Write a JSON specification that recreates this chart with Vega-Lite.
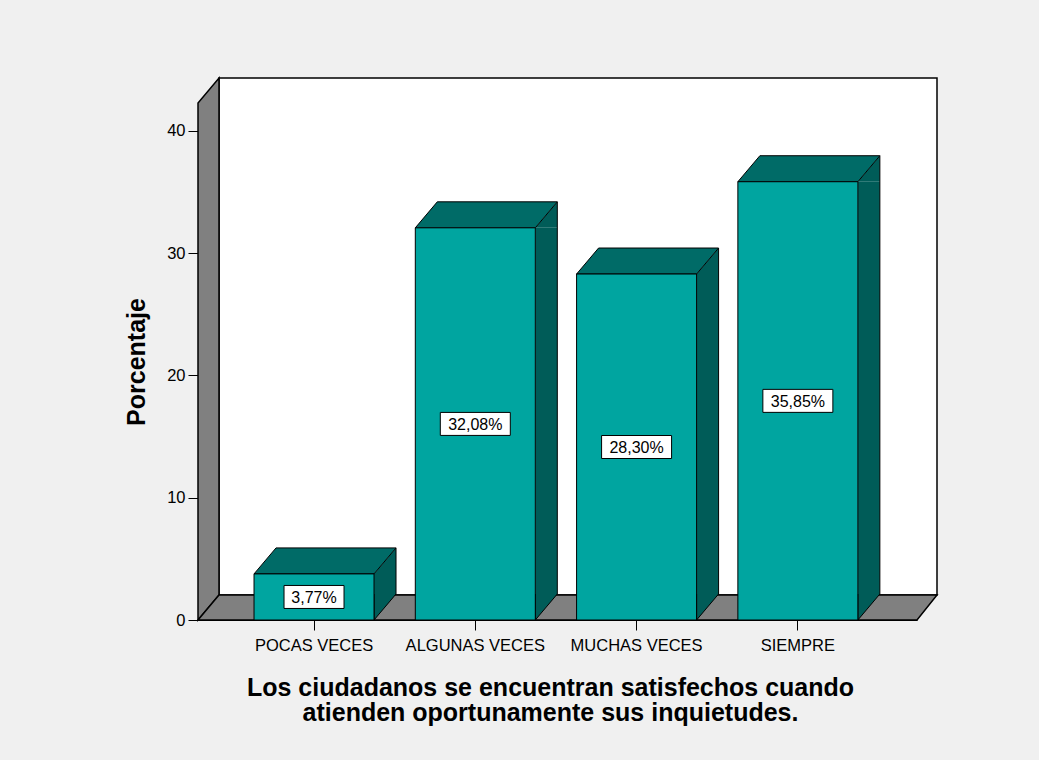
{
  "$schema": "https://vega.github.io/schema/vega-lite/v6.json",
  "width": 719,
  "height": 517,
  "autosize": {"type": "none"},
  "padding": {"left": 198, "top": 103, "right": 122, "bottom": 140},
  "background": "#f0f0f0",
  "config": {
    "view": {"stroke": null},
    "font": "Liberation Sans",
    "axis": {
      "domainColor": "black",
      "tickColor": "black",
      "labelColor": "black",
      "titleColor": "black",
      "labelFont": "Liberation Sans",
      "titleFont": "Liberation Sans",
      "grid": false,
      "tickSize": 10,
      "labelFontSize": 16.5,
      "titleFontSize": 25,
      "titleFontWeight": "bold"
    }
  },
  "data": {
    "values": [
      {"cat": "POCAS VECES", "pct": 3.77, "label": "3,77%"},
      {"cat": "ALGUNAS VECES", "pct": 32.08, "label": "32,08%"},
      {"cat": "MUCHAS VECES", "pct": 28.30, "label": "28,30%"},
      {"cat": "SIEMPRE", "pct": 35.85, "label": "35,85%"}
    ]
  },
  "encoding": {
    "x": {
      "field": "cat",
      "type": "nominal",
      "sort": null,
      "scale": {"paddingInner": 0, "paddingOuter": 0.229, "align": 0.479},
      "axis": {
        "title": ["Los ciudadanos se encuentran satisfechos cuando", "atienden oportunamente sus inquietudes."],
        "labelAngle": 0,
        "labelPadding": 7,
        "titleX": 352,
        "titleY": 55,
        "titleBaseline": "top",
        "titleLineHeight": 25.5
      }
    },
    "y": {
      "field": "pct",
      "type": "quantitative",
      "scale": {"domain": [0, 42.29], "nice": false},
      "axis": {
        "title": "Porcentaje",
        "values": [0, 10, 20, 30, 40],
        "labelPadding": 3,
        "titlePadding": 17
      }
    }
  },
  "layer": [
    {
      "transform": [{"filter": "datum.cat == 'SIEMPRE'"}],
      "mark": {"type": "rect", "fill": "white", "stroke": "black", "strokeWidth": 1.5, "xOffset": 21, "x2Offset": 20, "yOffset": -25, "y2Offset": -25},
      "encoding": {
        "x": {"value": 0},
        "x2": {"value": "width"},
        "y": {"datum": 42.29, "type": "quantitative"},
        "y2": {"datum": 0}
      }
    },
    {
      "transform": [{"filter": "datum.cat == 'SIEMPRE'"}],
      "mark": {"type": "point", "shape": "M0,0L0,-517L21,-542L21,-25Z", "size": 4, "filled": true, "fill": "#808080", "stroke": "black", "strokeWidth": 1.5, "opacity": 1},
      "encoding": {
        "x": {"value": 0},
        "y": {"datum": 0, "type": "quantitative"}
      }
    },
    {
      "transform": [{"filter": "datum.cat == 'SIEMPRE'"}],
      "mark": {"type": "point", "shape": "M0,0L719,0L739,-25L21,-25Z", "size": 4, "filled": true, "fill": "#808080", "stroke": "black", "strokeWidth": 1.5, "opacity": 1},
      "encoding": {
        "x": {"value": 0},
        "y": {"datum": 0, "type": "quantitative"}
      }
    },
    {
      "mark": {"type": "bar", "width": 22, "xOffset": 71, "y2Offset": -26, "fill": "#005c58", "strokeWidth": 0},
      "encoding": {"y2": {"datum": 0}}
    },
    {
      "mark": {"type": "point", "shape": "M60,0L82,-26L82,0Z", "size": 4, "filled": true, "fill": "#005c58", "strokeWidth": 0, "opacity": 1}
    },
    {
      "mark": {"type": "point", "shape": "M60,-26L60,0L82,-26", "size": 4, "filled": true, "fill": "#005c58", "stroke": "black", "strokeWidth": 1, "opacity": 1},
      "encoding": {"y": {"datum": 0, "type": "quantitative"}}
    },
    {
      "mark": {"type": "rule", "xOffset": 82, "yOffset": -26, "y2Offset": -26, "stroke": "black", "strokeWidth": 1},
      "encoding": {"y2": {"datum": 0}}
    },
    {
      "mark": {"type": "point", "shape": "M-60,0L60,0L82,-26L-38,-26Z", "size": 4, "filled": true, "fill": "#006b67", "stroke": "black", "strokeWidth": 1, "opacity": 1}
    },
    {
      "mark": {"type": "bar", "width": 120, "fill": "#00a5a0", "stroke": "black", "strokeWidth": 1}
    },
    {
      "mark": {"type": "point", "size": 4, "filled": true, "fill": "white", "stroke": "black", "strokeWidth": 1, "opacity": 1,
        "yOffset": {"expr": "(scale('y', 0) - scale('y', datum.pct)) / 2"}},
      "encoding": {
        "shape": {"condition": {"test": "datum.pct < 10", "value": "M-30,-11.5H30V11.5H-30Z"}, "value": "M-35,-11.5H35V11.5H-35Z"}
      }
    },
    {
      "mark": {"type": "text", "fontSize": 16, "color": "black", "align": "center", "baseline": "middle", "dy": 1,
        "yOffset": {"expr": "(scale('y', 0) - scale('y', datum.pct)) / 2"}},
      "encoding": {"text": {"field": "label"}}
    }
  ]
}
